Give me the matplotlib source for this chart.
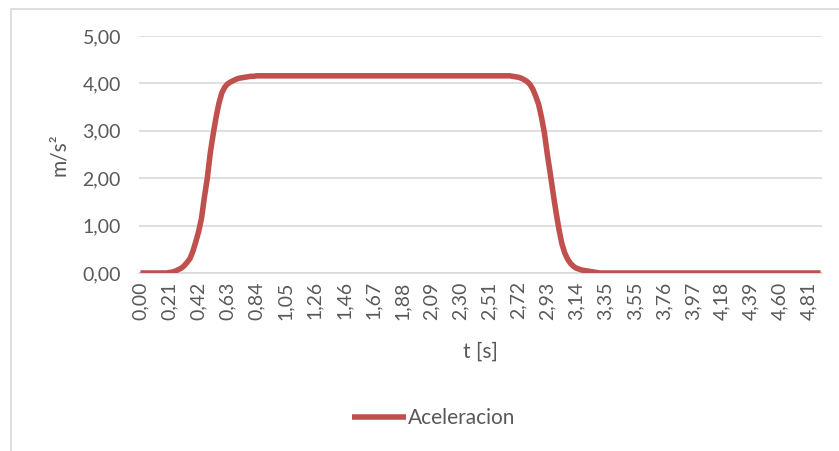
import numpy as np
import matplotlib
matplotlib.use('Agg')
import matplotlib.pyplot as plt
from matplotlib.patches import Rectangle

plt.rcParams['font.family'] = ['Lato', 'DejaVu Sans']

# numero de muestras (eje de categorias) y etiquetas cada 10 muestras
n_puntos = 235
paso_etiqueta = 10
etiquetas_t = ['0,00', '0,21', '0,42', '0,63', '0,84', '1,05', '1,26', '1,46',
               '1,67', '1,88', '2,09', '2,30', '2,51', '2,72', '2,93', '3,14',
               '3,35', '3,55', '3,76', '3,97', '4,18', '4,39', '4,60', '4,81']

# aceleracion [m/s2]: reposo, subida, meseta, bajada, reposo
reposo_ini = [0.00] * 10
subida = [0.01, 0.02, 0.04, 0.07, 0.10, 0.15, 0.22, 0.30, 0.45, 0.65,
          0.87, 1.15, 1.60, 2.00, 2.52, 2.92, 3.28, 3.58, 3.80, 3.92,
          3.99, 4.03, 4.06, 4.09, 4.11, 4.12, 4.13, 4.14, 4.15, 4.15,
          4.16, 4.16]
meseta = [4.16] * 86
bajada = [4.15, 4.14, 4.13, 4.11, 4.08, 4.04, 3.98, 3.88, 3.73, 3.56,
          3.28, 2.95, 2.50, 2.10, 1.68, 1.28, 0.92, 0.62, 0.42, 0.29,
          0.20, 0.14, 0.10, 0.08, 0.06, 0.05, 0.04, 0.03, 0.02, 0.01]
aceleracion = reposo_ini + subida + meseta + bajada
aceleracion = aceleracion + [0.00] * (n_puntos - len(aceleracion))

y_ticks = [0, 1, 2, 3, 4, 5]

gris_texto = '#595959'
gris_linea = '#d9d9d9'
rojo = '#c0504d'

fig = plt.figure(figsize=(8.39, 4.51), dpi=100)
# borde del area del grafico
fig.patches.append(Rectangle((11 / 839, -0.1), 1.2, 1 - 9 / 451 + 0.1,
                             transform=fig.transFigure, fill=False,
                             edgecolor=gris_linea, linewidth=1.2))

ax = fig.add_axes([139 / 839, 1 - 273 / 451, (822 - 139) / 839, (273 - 36) / 451])
x = np.arange(n_puntos)
ax.plot(x, aceleracion, color=rojo, linewidth=4.0, solid_capstyle='butt',
        solid_joinstyle='round', label='Aceleracion', zorder=3)

ax.set_xlim(-0.5, n_puntos - 0.5)
ax.set_ylim(0, 5)
ax.set_yticks(y_ticks)
ax.set_yticklabels([f'{v:.2f}'.replace('.', ',') for v in y_ticks])
ax.set_xticks(x[::paso_etiqueta])
ax.set_xticklabels(etiquetas_t, rotation=90)

ax.grid(axis='y', color=gris_linea, linewidth=1.2)
ax.set_axisbelow(True)
for lado in ['top', 'right', 'left']:
    ax.spines[lado].set_visible(False)
ax.spines['bottom'].set_color(gris_linea)
ax.spines['bottom'].set_linewidth(1.2)
ax.tick_params(length=0, colors=gris_texto, labelsize=14)
ax.tick_params(axis='y', pad=13)
ax.tick_params(axis='x', pad=6)

ax.set_xlabel('t [s]', fontsize=15, color=gris_texto, labelpad=16)
ax.set_ylabel('m/s²', fontsize=15, color=gris_texto, labelpad=10)

fig.legend(loc='center', bbox_to_anchor=(0.517, 1 - 418 / 451), frameon=False,
           fontsize=15, labelcolor=gris_texto, handlelength=2.6,
           handletextpad=0.1)

fig.savefig('out.png', dpi=100)
